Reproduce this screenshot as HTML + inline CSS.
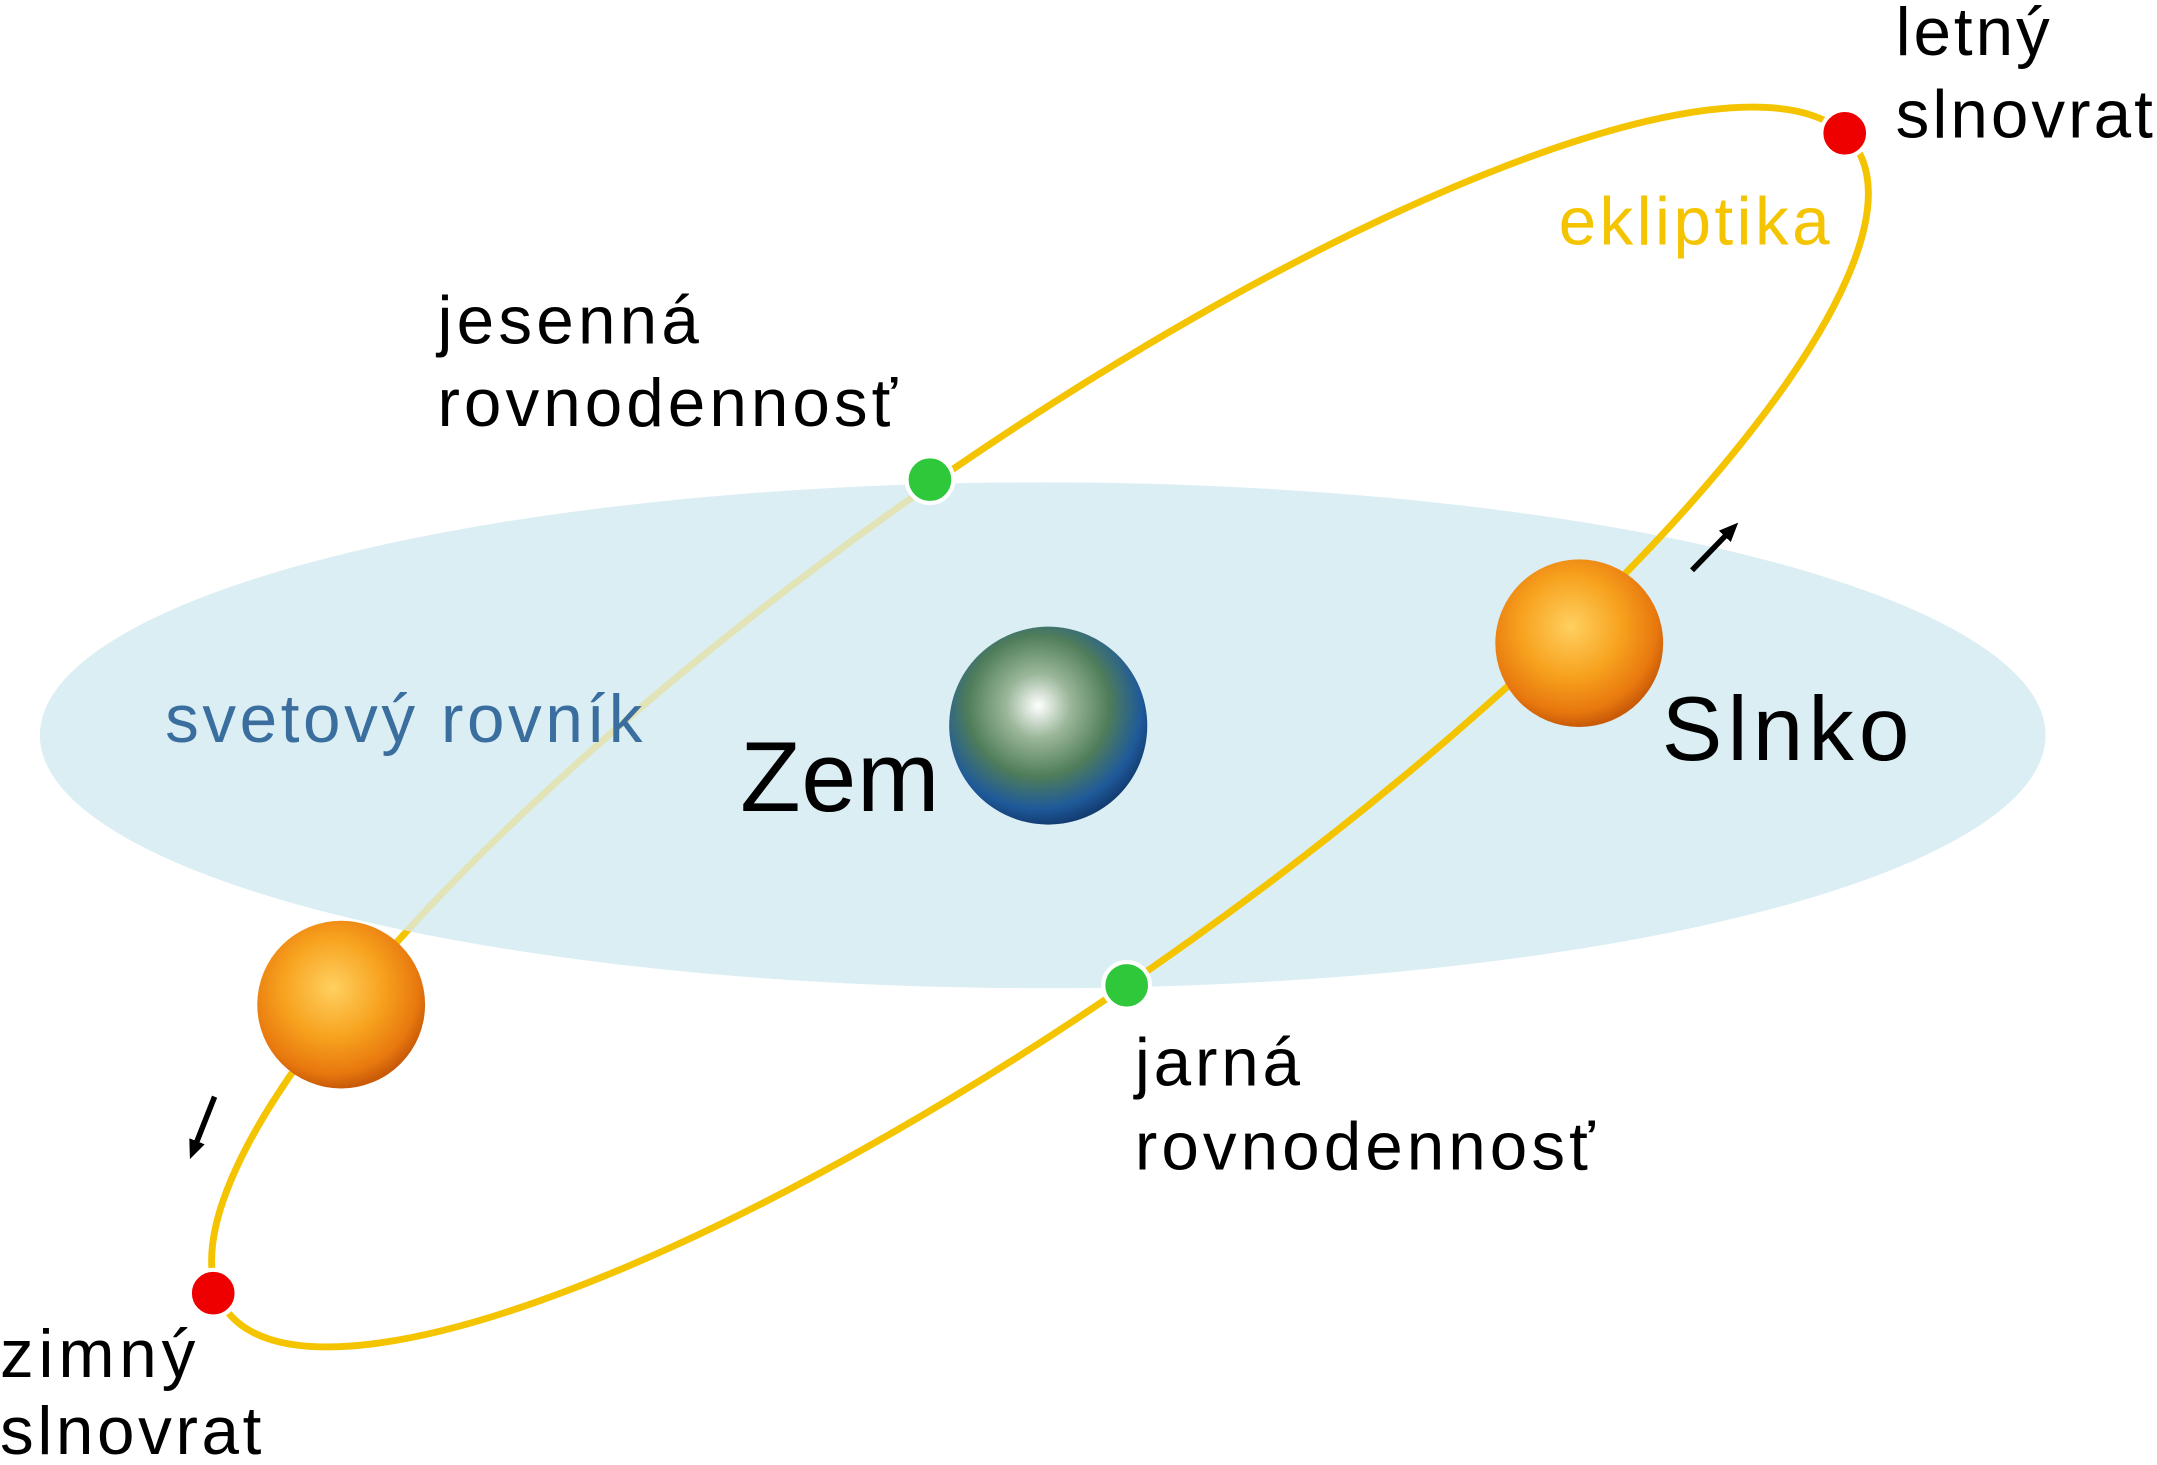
<!DOCTYPE html>
<html><head><meta charset="utf-8"><style>
html,body{margin:0;padding:0;background:#fff;overflow:hidden;}
svg{display:block;}
text{font-family:"Liberation Sans",sans-serif;}
</style></head><body>
<svg width="2157" height="1465" viewBox="0 0 1568 1066" preserveAspectRatio="none" xmlns="http://www.w3.org/2000/svg">
<defs>
<radialGradient id="sun" cx="45%" cy="40%" r="60%">
<stop offset="0" stop-color="#ffd060"/><stop offset="0.5" stop-color="#f7a21e"/><stop offset="0.85" stop-color="#e8780e"/><stop offset="1" stop-color="#c85a08"/>
</radialGradient>
<radialGradient id="earth" cx="45%" cy="40%" r="65%">
<stop offset="0" stop-color="#ffffff"/><stop offset="0.25" stop-color="#9bb79a"/><stop offset="0.55" stop-color="#4f7d5a"/><stop offset="0.8" stop-color="#1f5a9a"/><stop offset="1" stop-color="#0c2c5c"/>
</radialGradient>
<clipPath id="back"><polygon points="540,0 0,0 0,1066 955,1066"/></clipPath>
<marker id="ah" markerWidth="14" markerHeight="12" refX="6" refY="6" orient="auto" markerUnits="userSpaceOnUse"><path d="M0,0 L14,6 L0,12 z" fill="#000"/></marker>
</defs>
<ellipse cx="758" cy="535" rx="729" ry="184" fill="#dbeef3"/>
<ellipse cx="756" cy="529" rx="728" ry="190" fill="none" stroke="#f5c400" stroke-width="5" transform="rotate(-35.6 756 529)"/>
<ellipse cx="758" cy="535" rx="729" ry="184" fill="#dbeef3" opacity="0.75" clip-path="url(#back)"/>
<circle cx="1341" cy="97" r="17" fill="#ee0000" stroke="#fff" stroke-width="3"/>
<circle cx="155" cy="941" r="17" fill="#ee0000" stroke="#fff" stroke-width="3"/>
<circle cx="676" cy="349" r="17" fill="#2ec83a" stroke="#fff" stroke-width="3"/>
<circle cx="819" cy="717" r="17" fill="#2ec83a" stroke="#fff" stroke-width="3"/>
<circle cx="1148" cy="468" r="61" fill="url(#sun)"/>
<circle cx="248" cy="731" r="61" fill="url(#sun)"/>
<circle cx="762" cy="528" r="72" fill="url(#earth)"/>
<line x1="1230" y1="415" x2="1258" y2="386" stroke="#000" stroke-width="4" marker-end="url(#ah)"/>
<line x1="156" y1="798" x2="141" y2="836" stroke="#000" stroke-width="4" marker-end="url(#ah)"/>
<g font-size="49" fill="#000">
<text x="1378" y="40" textLength="112">letný</text><text x="1378" y="100" textLength="187">slnovrat</text>
<text x="318" y="250" textLength="190">jesenná</text><text x="318" y="310" textLength="334">rovnodennosť</text>
<text x="825" y="790" textLength="120">jarná</text><text x="825" y="851" textLength="334">rovnodennosť</text>
<text x="0" y="1002" textLength="142">zimný</text><text x="0" y="1058" textLength="190">slnovrat</text>
</g>
<text x="1133" y="178" font-size="49" fill="#f5c400" textLength="197">ekliptika</text>
<text x="120" y="540" font-size="49" fill="#3a6e9e" textLength="347">svetový rovník</text>
<text x="538" y="590" font-size="72" fill="#000" textLength="145">Zem</text>
<text x="1208" y="553" font-size="66" fill="#000" textLength="180">Slnko</text>
</svg>
</body></html>
